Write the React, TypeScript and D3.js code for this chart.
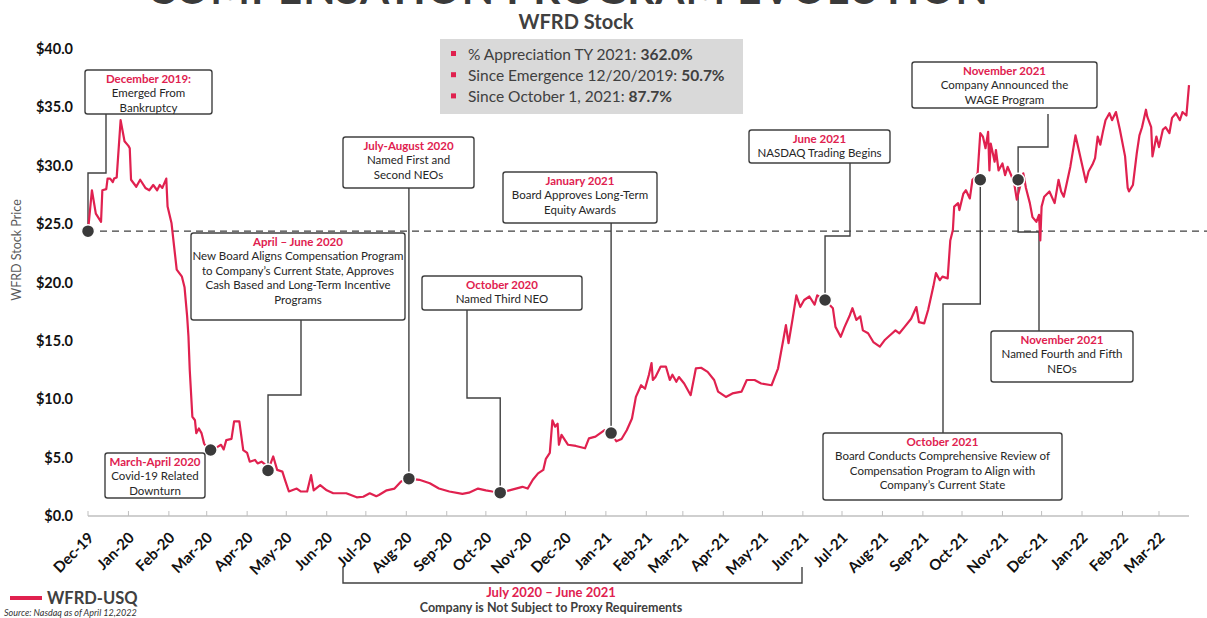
import * as React from 'react';
import * as d3 from 'd3';

// WFRD daily-ish closing prices
const priceDates = [
  '2019-12-20', '2019-12-23', '2019-12-26', '2019-12-30', '2019-12-31', '2020-01-03', '2020-01-04', '2020-01-06',
  '2020-01-08', '2020-01-09', '2020-01-11', '2020-01-14', '2020-01-17', '2020-01-20', '2020-01-21', '2020-01-22',
  '2020-01-26', '2020-01-29', '2020-02-02', '2020-02-05', '2020-02-08', '2020-02-11', '2020-02-13', '2020-02-15',
  '2020-02-18', '2020-02-19', '2020-02-22', '2020-02-24', '2020-02-26', '2020-03-01', '2020-03-03', '2020-03-05',
  '2020-03-06', '2020-03-07', '2020-03-09', '2020-03-11', '2020-03-12', '2020-03-14', '2020-03-16', '2020-03-18',
  '2020-03-20', '2020-03-23', '2020-03-25', '2020-03-28', '2020-03-31', '2020-04-02', '2020-04-04', '2020-04-08',
  '2020-04-10', '2020-04-14', '2020-04-17', '2020-04-20', '2020-04-22', '2020-04-26', '2020-04-28', '2020-05-01',
  '2020-05-04', '2020-05-06', '2020-05-10', '2020-05-13', '2020-05-17', '2020-05-19', '2020-05-22', '2020-05-28',
  '2020-05-31', '2020-06-05', '2020-06-08', '2020-06-10', '2020-06-15', '2020-06-20', '2020-06-25', '2020-07-05',
  '2020-07-13', '2020-07-18', '2020-07-23', '2020-07-28', '2020-07-30', '2020-08-05', '2020-08-11', '2020-08-16',
  '2020-08-22', '2020-08-30', '2020-09-07', '2020-09-14', '2020-09-22', '2020-10-02', '2020-10-07', '2020-10-14',
  '2020-10-20', '2020-10-25', '2020-10-31', '2020-11-07', '2020-11-12', '2020-11-17', '2020-11-21', '2020-11-25',
  '2020-11-29', '2020-12-03', '2020-12-05', '2020-12-08', '2020-12-10', '2020-12-12', '2020-12-14', '2020-12-15',
  '2020-12-17', '2020-12-22', '2020-12-28', '2021-01-04', '2021-01-07', '2021-01-12', '2021-01-19', '2021-01-24',
  '2021-01-28', '2021-02-01', '2021-02-05', '2021-02-09', '2021-02-12', '2021-02-16', '2021-02-19', '2021-02-22',
  '2021-02-24', '2021-02-25', '2021-02-27', '2021-03-03', '2021-03-07', '2021-03-10', '2021-03-12', '2021-03-15',
  '2021-03-17', '2021-03-21', '2021-03-26', '2021-03-30', '2021-04-03', '2021-04-08', '2021-04-13', '2021-04-16',
  '2021-04-22', '2021-04-27', '2021-05-04', '2021-05-08', '2021-05-14', '2021-05-19', '2021-05-27', '2021-06-01',
  '2021-06-05', '2021-06-07', '2021-06-09', '2021-06-12', '2021-06-15', '2021-06-18', '2021-06-21', '2021-06-25',
  '2021-06-29', '2021-07-01', '2021-07-07', '2021-07-13', '2021-07-15', '2021-07-19', '2021-07-22', '2021-07-26',
  '2021-07-28', '2021-07-31', '2021-08-03', '2021-08-05', '2021-08-09', '2021-08-13', '2021-08-18', '2021-08-22',
  '2021-08-26', '2021-08-30', '2021-09-02', '2021-09-06', '2021-09-11', '2021-09-15', '2021-09-17', '2021-09-21',
  '2021-09-24', '2021-09-28', '2021-09-30', '2021-10-03', '2021-10-05', '2021-10-09', '2021-10-11', '2021-10-13',
  '2021-10-14', '2021-10-17', '2021-10-18', '2021-10-21', '2021-10-23', '2021-10-26', '2021-10-28', '2021-10-31',
  '2021-11-01', '2021-11-03', '2021-11-05', '2021-11-07', '2021-11-09', '2021-11-10', '2021-11-11', '2021-11-14',
  '2021-11-15', '2021-11-17', '2021-11-20', '2021-11-22', '2021-11-24', '2021-11-27', '2021-11-29', '2021-12-01',
  '2021-12-03', '2021-12-06', '2021-12-08', '2021-12-11', '2021-12-13', '2021-12-16', '2021-12-18', '2021-12-19',
  '2021-12-20', '2021-12-22', '2021-12-26', '2021-12-30', '2022-01-02', '2022-01-04', '2022-01-06', '2022-01-08',
  '2022-01-11', '2022-01-15', '2022-01-17', '2022-01-20', '2022-01-23', '2022-01-25', '2022-01-28', '2022-01-30',
  '2022-02-01', '2022-02-03', '2022-02-05', '2022-02-07', '2022-02-10', '2022-02-12', '2022-02-15', '2022-02-18',
  '2022-02-22', '2022-02-24', '2022-02-25', '2022-02-28', '2022-03-03', '2022-03-05', '2022-03-07', '2022-03-10',
  '2022-03-11', '2022-03-14', '2022-03-15', '2022-03-18', '2022-03-20', '2022-03-23', '2022-03-25', '2022-03-28',
  '2022-03-30', '2022-04-02', '2022-04-05', '2022-04-07', '2022-04-10', '2022-04-11', '2022-04-12',
];

const priceValues = [
  24.4, 27.9, 25.9, 25.2, 27.9, 28.0, 28.9, 28.9,
  28.6, 28.9, 29.0, 33.9, 32.1, 31.7, 31.5, 28.8,
  28.2, 28.8, 28.1, 27.9, 28.35, 27.9, 28.35, 28.1,
  28.9, 26.5, 25.1, 23.1, 21.1, 20.5, 19.6, 17.1,
  15.4, 12.5, 8.5, 8.2, 7.1, 7.5, 7.1, 6.2,
  5.9, 5.65, 5.8, 5.9, 6.1, 5.7, 6.5, 6.6,
  8.1, 8.1, 5.65, 5.4, 4.65, 4.8, 4.5, 4.65,
  4.4, 3.9, 5.1, 3.95, 3.8, 3.1, 2.1, 2.35,
  2.1, 2.1, 3.5, 2.2, 2.65, 2.2, 1.95, 1.95,
  1.6, 1.65, 1.95, 1.7, 1.8, 2.2, 2.35, 2.95,
  3.2, 3.1, 2.8, 2.35, 2.1, 1.9, 2.0, 2.35,
  2.2, 2.1, 2.0, 2.2, 2.35, 2.5, 2.35, 3.1,
  3.65, 3.95, 4.9, 5.4, 8.2, 7.65, 7.9, 6.1,
  6.95, 6.1, 6.0, 5.8, 6.65, 6.8, 7.35, 7.1,
  6.4, 6.6, 7.35, 8.35, 10.2, 11.2, 10.9, 12.1,
  13.1, 11.65, 11.9, 12.8, 12.8, 11.65, 12.1, 11.5,
  11.9, 11.35, 10.35, 12.65, 12.7, 12.35, 11.65, 10.65,
  10.2, 10.5, 10.65, 11.65, 11.65, 11.35, 11.2, 12.65,
  15.1, 16.35, 14.8, 16.8, 18.9, 17.9, 18.5, 18.8,
  18.1, 18.9, 18.5, 17.8, 16.2, 15.35, 16.2, 17.2,
  17.8, 16.8, 17.1, 15.9, 15.65, 14.9, 14.5, 15.1,
  15.5, 15.9, 15.65, 16.2, 16.9, 17.9, 16.6, 16.5,
  17.65, 19.65, 20.8, 20.2, 20.5, 20.35, 23.6, 24.5,
  26.5, 26.8, 26.2, 27.6, 27.9, 27.2, 28.8, 29.1,
  29.4, 32.8, 32.5, 31.5, 32.9, 29.6, 31.9, 30.35,
  31.35, 29.6, 30.2, 29.2, 29.9, 29.1, 28.5, 27.1,
  28.0, 29.35, 28.1, 26.8, 25.6, 25.2, 25.8, 23.6,
  26.5, 27.35, 27.8, 26.8, 28.8, 27.8, 27.35, 28.35,
  29.9, 32.6, 31.6, 30.1, 28.6, 29.5, 30.1, 30.65,
  32.5, 31.8, 32.9, 33.9, 34.5, 33.9, 34.6, 33.1,
  30.8, 28.1, 27.8, 28.35, 31.1, 32.6, 33.3, 34.8,
  34.2, 33.3, 30.8, 32.5, 31.6, 33.1, 33.3, 32.8,
  34.1, 34.5, 33.9, 34.6, 34.3, 35.6, 36.9,
];

// milestone markers on the price line
const eventDates = ['2019-12-20', '2020-03-23', '2020-05-06', '2020-08-22', '2020-10-31', '2021-01-24', '2021-07-07', '2021-11-03', '2021-12-02'];
const eventPrices = [24.4, 5.65, 3.9, 3.2, 2.0, 7.1, 18.5, 28.8, 28.8];

const emergencePrice = 24.4;
const yTicks = [0, 5, 10, 15, 20, 25, 30, 35, 40];

const infoLines = [
  ['% Appreciation TY 2021: ', '362.0%'],
  ['Since Emergence 12/20/2019: ', '50.7%'],
  ['Since October 1, 2021: ', '87.7%'],
];

const RED = '#e0214f';
const INK = '#404040';
const FONT = 'Lato, "Open Sans", sans-serif';

// callout boxes: [x0, y0, x1, y1], elbow points of the leader, marker index
const callouts = [
  { head: 'December 2019:', lines: ['Emerged From', 'Bankruptcy'], box: [85, 70, 212, 114], elbow: [[106, 114], [106, 173]], ev: 0 },
  { head: 'March-April 2020', lines: ['Covid-19 Related', 'Downturn'], box: [105, 453, 205, 498], elbow: [], ev: -1 },
  {
    head: 'April \u2013 June 2020',
    lines: ['New Board Aligns Compensation Program', 'to Company\u2019s Current State, Approves', 'Cash Based and Long-Term Incentive', 'Programs'],
    box: [191, 233, 405, 320], elbow: [[301, 320], [301, 395]], ev: 2,
  },
  { head: 'July-August 2020', lines: ['Named First and', 'Second NEOs'], box: [343, 137, 474, 188], elbow: [[408, 188]], ev: 3 },
  { head: 'October 2020', lines: ['Named Third NEO'], box: [422, 276, 582, 310], elbow: [[467, 310], [467, 398]], ev: 4 },
  { head: 'January 2021', lines: ['Board Approves Long-Term', 'Equity Awards'], box: [503, 172, 657, 223], elbow: [[612, 223]], ev: 5 },
  { head: 'June 2021', lines: ['NASDAQ Trading Begins'], box: [749, 130, 890, 163], elbow: [[850, 163], [850, 236]], ev: 6 },
  { head: 'November 2021', lines: ['Company Announced the', 'WAGE Program'], box: [912, 62, 1097, 108], elbow: [[1048, 114], [1048, 147]], ev: 8 },
  { head: 'November 2021', lines: ['Named Fourth and Fifth', 'NEOs'], box: [991, 331, 1133, 382], elbow: [[1039, 331], [1039, 232]], ev: 8 },
  {
    head: 'October 2021',
    lines: ['Board Conducts Comprehensive Review of', 'Compensation Program to Align with', 'Company\u2019s Current State'],
    box: [823, 433, 1062, 500], elbow: [[943, 433], [943, 304]], ev: 7,
  },
];

const parse = d3.utcParse('%Y-%m-%d');

const App = () => {
  const x = d3.scaleUtc().domain([parse('2019-12-20'), parse('2022-04-12')]).range([88, 1189]);
  const y = d3.scaleLinear().domain([0, 40]).range([516, 49]);

  const series = priceDates.map((d, i) => ({ date: parse(d), value: priceValues[i] }));
  const line = d3.line().x((d) => x(d.date)).y((d) => y(d.value));
  const events = eventDates.map((d, i) => ({ cx: x(parse(d)), cy: y(eventPrices[i]) }));

  // month ticks fall on the 20th, as the axis starts on emergence day
  const monthTicks = d3.utcMonth
    .range(parse('2019-12-01'), parse('2022-04-01'))
    .map((m) => d3.utcDay.offset(m, 19));
  const fmtMonth = d3.utcFormat('%b-%y');
  const [x0, x1] = x.range();
  const baseY = y(0);

  const leader = d3.line();

  return (
    <svg width={1207} height={618} style={{ position: 'absolute', left: 0, top: 0, display: 'block' }} fontFamily={FONT}>
      <rect width={1207} height={618} fill='#fff' />

      {/* slide title, cropped at the top of the picture */}
      <text x={568} y={4} textAnchor='middle' fontSize={42} fontWeight={700} fill='#3a3a3a' letterSpacing={1}>
        COMPENSATION PROGRAM EVOLUTION
      </text>
      <text x={576} y={29} textAnchor='middle' fontSize={20} fontWeight={700} fill={INK}>
        WFRD Stock
      </text>

      {/* info box */}
      <rect x={440} y={39} width={303} height={75} fill='#d9d9d9' />
      {infoLines.map((l, i) => (
        <g key={i}>
          <rect x={451} y={51 + i * 21.2} width={5} height={5} fill={RED} />
          <text x={468} y={60 + i * 21.2} fontSize={15.5} fill={INK}>
            {l[0]}
            <tspan fontWeight={700}>{l[1]}</tspan>
          </text>
        </g>
      ))}

      {/* y axis */}
      {yTicks.map((t) => (
        <text key={t} x={73} y={y(t)} dy='0.35em' textAnchor='end' fontSize={14.5} fontWeight={700} fill='#111'>
          {'$' + t.toFixed(1)}
        </text>
      ))}
      <text transform={`translate(21,250) rotate(-90)`} textAnchor='middle' fontSize={12.5} fill='#595959'>
        WFRD Stock Price
      </text>

      {/* x axis */}
      <line x1={x0} x2={x1} y1={baseY} y2={baseY} stroke='#bfbfbf' strokeWidth={1.5} />
      {monthTicks.map((t, i) => (
        <g key={i}>
          <line x1={x(t)} x2={x(t)} y1={baseY} y2={baseY - 5} stroke='#bfbfbf' strokeWidth={1} />
          <text
            transform={`translate(${x(t) + 3},${baseY + 19}) rotate(-45)`}
            textAnchor='end'
            dy='0.35em'
            fontSize={15}
            fontWeight={700}
            fill='#111'>
            {fmtMonth(t)}
          </text>
        </g>
      ))}

      {/* emergence reference line */}
      <line x1={x0} x2={1207} y1={y(emergencePrice)} y2={y(emergencePrice)} stroke={INK} strokeWidth={1.4} strokeDasharray='7 5' />

      {/* leaders */}
      {callouts
        .filter((c) => c.ev >= 0)
        .map((c, i) => {
          const e = events[c.ev];
          const last = c.elbow[c.elbow.length - 1];
          const pts = [...c.elbow, [e.cx, last[1]], [e.cx, e.cy]];
          return <path key={i} d={leader(pts)} fill='none' stroke={INK} strokeWidth={1.4} />;
        })}

      <path d={line(series)} fill='none' stroke={RED} strokeWidth={2.2} strokeLinejoin='round' />

      {events.map((e, i) => (
        <circle key={i} cx={e.cx} cy={e.cy} r={6.5} fill='#3a3a3a' stroke='#fff' strokeWidth={1.5} />
      ))}

      {/* callout boxes */}
      {callouts.map((c, i) => {
        const [bx0, by0, bx1, by1] = c.box;
        const cx = (bx0 + bx1) / 2;
        return (
          <g key={i}>
            <rect x={bx0} y={by0} width={bx1 - bx0} height={by1 - by0} rx={2.5} fill='#fff' stroke={INK} strokeWidth={1.4} />
            <text x={cx} y={by0 + 8.5} dy='0.35em' textAnchor='middle' fontSize={11.5} fontWeight={700} fill={RED}>
              {c.head}
            </text>
            {c.lines.map((l, j) => (
              <text key={j} x={cx} y={by0 + 8.5 + (j + 1) * 14.6} dy='0.35em' textAnchor='middle' fontSize={11.5} fill='#262626'>
                {l}
              </text>
            ))}
          </g>
        );
      })}

      {/* period bracket */}
      <path d='M343,567V583H802V567' fill='none' stroke={INK} strokeWidth={1.4} />
      <text x={551} y={592} dy='0.35em' textAnchor='middle' fontSize={13} fontWeight={700} fill={RED}>
        July 2020 {'\u2013'} June 2021
      </text>
      <text x={551} y={608} dy='0.35em' textAnchor='middle' fontSize={12.5} fontWeight={700} fill={INK}>
        Company is Not Subject to Proxy Requirements
      </text>

      {/* legend */}
      <line x1={10} x2={42} y1={598} y2={598} stroke={RED} strokeWidth={4} />
      <text x={47} y={598} dy='0.35em' fontSize={16.5} fontWeight={700} fill={INK}>
        WFRD-USQ
      </text>
      <text x={4} y={616} fontSize={9} fontStyle='italic' fill='#333'>
        Source: Nasdaq as of April 12,2022
      </text>
    </svg>
  );
};

export default App;
